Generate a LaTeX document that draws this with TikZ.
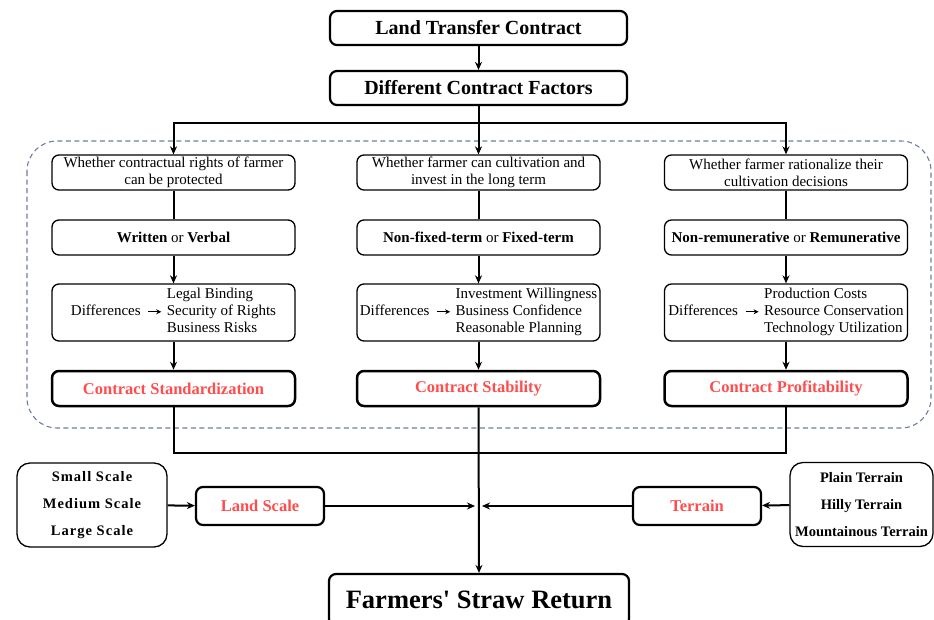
\documentclass[tikz,border=0pt]{standalone}
\usepackage{fontspec}
\setmainfont{Liberation Serif}
\usetikzlibrary{arrows.meta,positioning}
\definecolor{keyred}{RGB}{255,77,77}
\definecolor{frameblue}{RGB}{112,124,158}
\newcommand{\diffarrow}{\tikz[baseline=-0.6ex]\draw[line width=1.2pt,-{Stealth[length=5pt,width=5pt]}] (0pt,0pt) -- (13pt,0pt);}
\newcommand{\sizeq}{\fontsize{15}{17}\selectfont}
\newcommand{\difflist}[4]{\begin{tabular}{@{}r@{\hspace{5pt}}l@{}} & #2\\ #1\hspace{7pt}\diffarrow & #3\\ & #4\end{tabular}}

\begin{document}
\begin{tikzpicture}[x=1pt, y=-1pt,
  box/.style={draw, rounded corners=7pt, line width=1.3pt, align=center, inner sep=2pt, minimum width=243pt, minimum height=35pt, font=\sizeq},
  headbox/.style={box, line width=2.2pt, minimum width=297pt, minimum height=34pt, font=\fontsize{20}{22}\selectfont\bfseries},
  keybox/.style={box, line width=2.5pt, text=keyred, font=\fontsize{16.5}{19}\selectfont\bfseries},
  sidebox/.style={keybox, line width=2.2pt, minimum width=128pt, minimum height=38pt},
  listbox/.style={draw, rounded corners=13pt, line width=1.3pt, align=center, inner sep=2pt, minimum height=84pt, font=\fontsize{14.5}{27}\selectfont\bfseries},
  link/.style={line width=2pt},
  arrow/.style={link, -{Stealth[length=8pt,width=7pt]}},
  >=Stealth
]
\useasboundingbox (0,0) rectangle (934,619);

% dashed frame round the three contract branches
\draw[frameblue, line width=1.1pt, dash pattern=on 5pt off 3.5pt, rounded corners=30pt] (27,141) rectangle (931,428);

% top
\node[headbox] (ltc) at (478.5,28) {Land Transfer Contract};
\node[headbox] (dcf) at (478.5,88) {Different Contract Factors};

% left branch: standardization
\node[box] (q1) at (173.5,172.5) {Whether contractual rights of farmer\\can be protected};
\node[box] (o1) at (173.5,237.5) {\textbf{Written} or \textbf{Verbal}};
\node[box, minimum height=57pt] (d1) at (173.5,312.5) {\difflist{Differences}{Legal Binding}{Security of Rights}{Business Risks}};
\node[keybox] (r1) at (173.5,388.5) {Contract Standardization};

% middle branch: stability
\node[box] (q2) at (478.5,172.5) {Whether farmer can cultivation and\\invest in the long term};
\node[box] (o2) at (478.5,237.5) {\textbf{Non-fixed-term} or \textbf{Fixed-term}};
\node[box, minimum height=57pt] (d2) at (478.5,312.5) {\difflist{Differences}{Investment Willingness}{Business Confidence}{Reasonable Planning}};
\node[keybox] (r2) at (478.5,388.5) {Contract Stability};

% right branch: profitability
\node[box] (q3) at (786,172.5) {Whether farmer rationalize their\\cultivation decisions};
\node[box] (o3) at (786,237.5) {\textbf{Non-remunerative} or \textbf{Remunerative}};
\node[box, minimum height=57pt] (d3) at (786,312.5) {\difflist{Differences}{Production Costs}{Resource Conservation}{Technology Utilization}};
\node[keybox] (r3) at (786,388.5) {Contract Profitability};

% side factors
\node[listbox, minimum width=150pt, font=\fontsize{14.5}{27}\selectfont\bfseries\addfontfeature{LetterSpace=7}] (scales) at (92,505) {Small Scale\\Medium Scale\\Large Scale};
\node[sidebox] (ls) at (260,506) {Land Scale};
\node[sidebox] (tr) at (697,506) {Terrain};
\node[listbox, minimum width=143pt] (terrains) at (861.5,504.5) {Plain Terrain\\Hilly Terrain\\Mountainous Terrain};

% outcome
\node[box, line width=2.2pt, minimum width=300pt, minimum height=52pt, font=\fontsize{26.5}{30}\selectfont\bfseries] (fsr) at (479,600) {Farmers\textquotesingle{} Straw Return};

% connectors
\coordinate (split) at (478.5,123);
\coordinate (join) at (478.5,453);
\coordinate (inl) at (475,506);
\coordinate (inr) at (482,506);

\draw[arrow] (ltc) -- (dcf);
\draw[link] (dcf) -- (split);
\draw[arrow] (split) -| (q1.north);
\draw[arrow] (split) -- (q2.north);
\draw[arrow] (split) -| (q3.north);

\draw[link] (q1) -- (o1);
\draw[arrow] (o1) -- (d1);
\draw[arrow] (d1) -- (r1);
\draw[link] (q2) -- (o2);
\draw[arrow] (o2) -- (d2);
\draw[arrow] (d2) -- (r2);
\draw[link] (q3) -- (o3);
\draw[arrow] (o3) -- (d3);
\draw[arrow] (d3) -- (r3);

\draw[link] (r1.south) |- (join);
\draw[link] (r3.south) |- (join);
\draw[arrow] (r2.south) -- (fsr.north);

\draw[arrow] (scales) -- (ls);
\draw[arrow] (ls) -- (inl);
\draw[arrow] (terrains) -- (tr);
\draw[arrow] (tr) -- (inr);

\end{tikzpicture}
\end{document}
